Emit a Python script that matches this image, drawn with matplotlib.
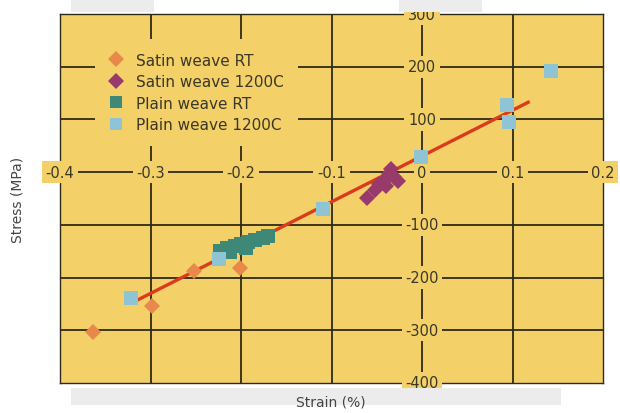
import matplotlib
matplotlib.use("Agg")
import matplotlib.pyplot as plt
from matplotlib.patches import Rectangle

# Measured points (strain in %, stress in MPa)
satin_rt_x = [-0.364, -0.298, -0.252, -0.201]
satin_rt_y = [-304, -254, -187, -181]

satin_1200_x = [-0.061, -0.052, -0.047, -0.041, -0.036, -0.031, -0.026, -0.040, -0.034]
satin_1200_y = [-49, -33, -22, -14, -4, -10, -16, -27, 6]

plain_rt_x = [-0.223, -0.215, -0.207, -0.200, -0.192, -0.184, -0.176, -0.170, -0.212, -0.195]
plain_rt_y = [-150, -143, -140, -136, -132, -128, -125, -121, -152, -143]

plain_1200_x = [-0.322, -0.224, -0.109, -0.001, 0.094, 0.096, 0.143]
plain_1200_y = [-239, -165, -70, 28, 127, 95, 192]

fit_x = [-0.316, 0.119]
fit_y = [-244, 134]

x_ticks = [-0.4, -0.3, -0.2, -0.1, 0.0, 0.1, 0.2]
x_labels = ["-0.4", "-0.3", "-0.2", "-0.1", "0", "0.1", "0.2"]
y_ticks = [300, 200, 100, -100, -200, -300, -400]
y_labels = ["300", "200", "100", "-100", "-200", "-300", "-400"]

BG = "#F3D068"
INK = "#2E2A18"
TXT = "#3A3828"

fig = plt.figure(figsize=(6.2, 4.14), dpi=100)

# faint grey bands around the plot frame
for (x0, y0, w, h) in [(71, 0, 83, 13), (399, 0, 83, 13), (71, 389, 490, 17)]:
    fig.patches.append(Rectangle((x0 / 620, 1 - (y0 + h) / 414), w / 620, h / 414,
                                 transform=fig.transFigure, facecolor="#ECECEC",
                                 edgecolor="none", zorder=0))

ax = fig.add_axes([60 / 620, 1 - 384 / 414, 543 / 620, 369 / 414])
ax.set_facecolor(BG)
ax.set_xlim(-0.4, 0.2)
ax.set_ylim(-400, 300)
ax.set_xticks([])
ax.set_yticks([])
for sp in ax.spines.values():
    sp.set_color(INK)
    sp.set_linewidth(1.0)

# grid and centred axes
for xv in x_ticks[1:-1]:
    ax.axvline(xv, color=INK, lw=1.3, zorder=1)
for yv in y_ticks[1:-1] + [0]:
    ax.axhline(yv, color=INK, lw=1.3, zorder=1)

lbl_box = dict(boxstyle="square,pad=0.25", facecolor=BG, edgecolor="none")
for xv, s in zip(x_ticks, x_labels):
    ax.text(xv, 0, s, ha="center", va="center", fontsize=10.5, color=TXT,
            bbox=lbl_box, zorder=3, clip_on=False)
for yv, s in zip(y_ticks, y_labels):
    ax.text(0, yv, s, ha="center", va="center", fontsize=10.5, color=TXT,
            bbox=lbl_box, zorder=3, clip_on=False)

# linear fit
ax.plot(fit_x, fit_y, color="#DC3A1E", lw=2.4, zorder=2, solid_capstyle="butt")

h1, = ax.plot(satin_rt_x, satin_rt_y, "D", ms=8.5, color="#E8884A", mew=0,
              zorder=4, label="Satin weave RT")
h2, = ax.plot(satin_1200_x, satin_1200_y, "D", ms=8.5, color="#983A6C", mew=0,
              zorder=4, label="Satin weave 1200C")
h3, = ax.plot(plain_rt_x, plain_rt_y, "s", ms=9.5, color="#3E8878", mew=0,
              zorder=4, label="Plain weave RT")
h4, = ax.plot(plain_1200_x, plain_1200_y, "s", ms=9.5, color="#8EC4D4", mew=0,
              zorder=5, label="Plain weave 1200C")

leg = ax.legend(handles=[h1, h2, h3, h4], loc="upper left",
                bbox_to_anchor=(0.064, 0.932), borderaxespad=0,
                frameon=True, facecolor=BG, edgecolor="none", framealpha=1,
                fontsize=11, labelspacing=0.42, handletextpad=0.8,
                handlelength=1.0, borderpad=0.9, markerscale=0.95, fancybox=False)
leg.set_zorder(6)
for t in leg.get_texts():
    t.set_color(TXT)

fig.text(331 / 620, 1 - 403 / 414, "Strain (%)", ha="center", va="center",
         fontsize=10, color="#444444")
fig.text(18 / 620, 1 - 200 / 414, "Stress (MPa)", ha="center", va="center",
         rotation=90, fontsize=10, color="#444444")

fig.savefig("out.png", dpi=100, facecolor="white")
